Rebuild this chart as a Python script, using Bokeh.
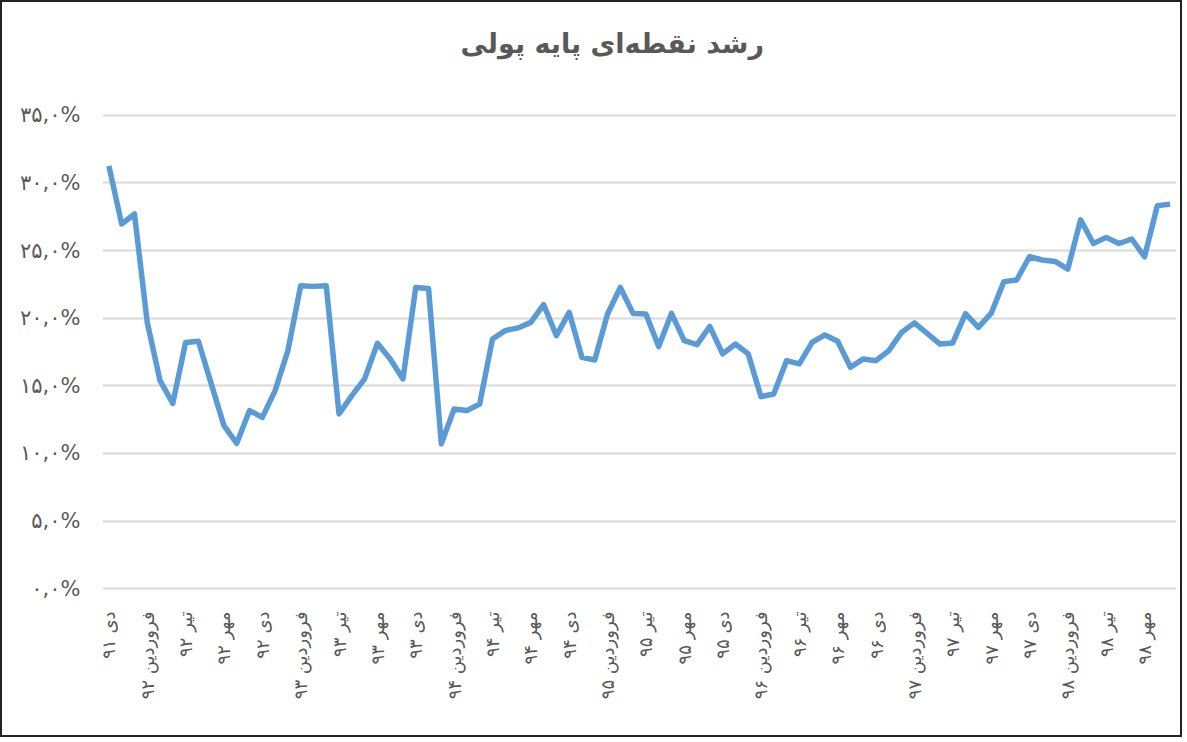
from math import pi
from bokeh.plotting import figure
from bokeh.models import Range1d, FixedTicker, CustomJSTickFormatter, ColumnDataSource, Title
from bokeh.embed import file_html
from bokeh.resources import INLINE

# monthly point growth of monetary base (%), دی ۹۱ .. آذر ۹۸
growth = [31.26, 26.96, 27.70, 19.69, 15.38, 13.71, 18.21, 18.29, 15.16, 12.06,
          10.75, 13.17, 12.67, 14.65, 17.60, 22.40, 22.35, 22.40, 12.92, 14.28,
          15.51, 18.14, 16.99, 15.51, 22.27, 22.20, 10.71, 13.29, 13.17, 13.66,
          18.46, 19.08, 19.28, 19.69, 21.00, 18.71, 20.43, 17.10, 16.91, 20.31,
          22.27, 20.35, 20.31, 17.90, 20.35, 18.34, 18.04, 19.39, 17.36, 18.09,
          17.36, 14.20, 14.40, 16.86, 16.62, 18.21, 18.76, 18.29, 16.37, 16.99,
          16.86, 17.60, 18.95, 19.65, 18.88, 18.09, 18.17, 20.33, 19.32, 20.35,
          22.70, 22.82, 24.54, 24.30, 24.19, 23.63, 27.27, 25.52, 25.97, 25.52,
          25.85, 24.54, 28.31, 28.43]

# category axis labels, shown every third month
tick_labels = ["دی ۹۱", "فروردین ۹۲", "تیر ۹۲", "مهر ۹۲", "دی ۹۲", "فروردین ۹۳",
               "تیر ۹۳", "مهر ۹۳", "دی ۹۳", "فروردین ۹۴", "تیر ۹۴", "مهر ۹۴",
               "دی ۹۴", "فروردین ۹۵", "تیر ۹۵", "مهر ۹۵", "دی ۹۵", "فروردین ۹۶",
               "تیر ۹۶", "مهر ۹۶", "دی ۹۶", "فروردین ۹۷", "تیر ۹۷", "مهر ۹۷",
               "دی ۹۷", "فروردین ۹۸", "تیر ۹۸", "مهر ۹۸"]
y_ticks = [0, 5, 10, 15, 20, 25, 30, 35]
title_text = "رشد نقطه\u200cای پایه پولی"

idx = list(range(len(growth)))
src = ColumnDataSource(dict(x=idx, y=growth))

FONT = "DejaVu Sans"
GRAY = "#595959"

p = figure(width=1182, height=737, output_backend="svg", toolbar_location=None, title=None,
           x_range=Range1d(-0.5, len(growth) - 0.5), y_range=Range1d(-0.2, 35.2),
           min_border_left=100, min_border_right=8, min_border_top=110, min_border_bottom=148)
p.styles = {"border": "2px solid #222222"}

# blank spacer panel next to the frame, then the chart title above it
p.add_layout(Title(text=" ", standoff=46, text_font_size="1px"), "above")
p.add_layout(Title(text=title_text, align="left", offset=358, standoff=10,
                   text_font=FONT, text_font_size="27px", text_font_style="bold",
                   text_color=GRAY), "above")

p.line("x", "y", source=src, line_color="#5B9BD5", line_width=5.5, line_join="round")

p.outline_line_color = None
p.background_fill_color = "white"
p.border_fill_color = "white"

p.xgrid.grid_line_color = None
p.ygrid.grid_line_color = "#D9D9D9"
p.ygrid.grid_line_width = 2

p.yaxis.ticker = FixedTicker(ticks=y_ticks)
p.yaxis.formatter = CustomJSTickFormatter(code="""
const d = '۰۱۲۳۴۵۶۷۸۹';
return tick.toFixed(1).replace('.', ',').replace(/[0-9]/g, c => d[+c]) + '%';
""")
p.yaxis.axis_line_color = None
p.yaxis.major_tick_line_color = None
p.yaxis.minor_tick_line_color = None
p.yaxis.major_label_standoff = 16
p.yaxis.major_label_text_font = FONT
p.yaxis.major_label_text_font_size = "21px"
p.yaxis.major_label_text_color = GRAY

p.xaxis.ticker = FixedTicker(ticks=list(range(0, len(growth), 3)))
p.xaxis.formatter = CustomJSTickFormatter(args=dict(labels=tick_labels), code="""
const i = Math.round(tick / 3);
return (i >= 0 && i < labels.length) ? labels[i] : '';
""")
p.xaxis.major_label_orientation = pi / 2
p.xaxis.axis_line_color = None
p.xaxis.major_tick_line_color = None
p.xaxis.minor_tick_line_color = None
p.xaxis.major_label_standoff = 14
p.xaxis.major_label_text_font = FONT
p.xaxis.major_label_text_font_size = "18px"
p.xaxis.major_label_text_color = GRAY

open("out.html", "w").write(file_html(p, INLINE))
